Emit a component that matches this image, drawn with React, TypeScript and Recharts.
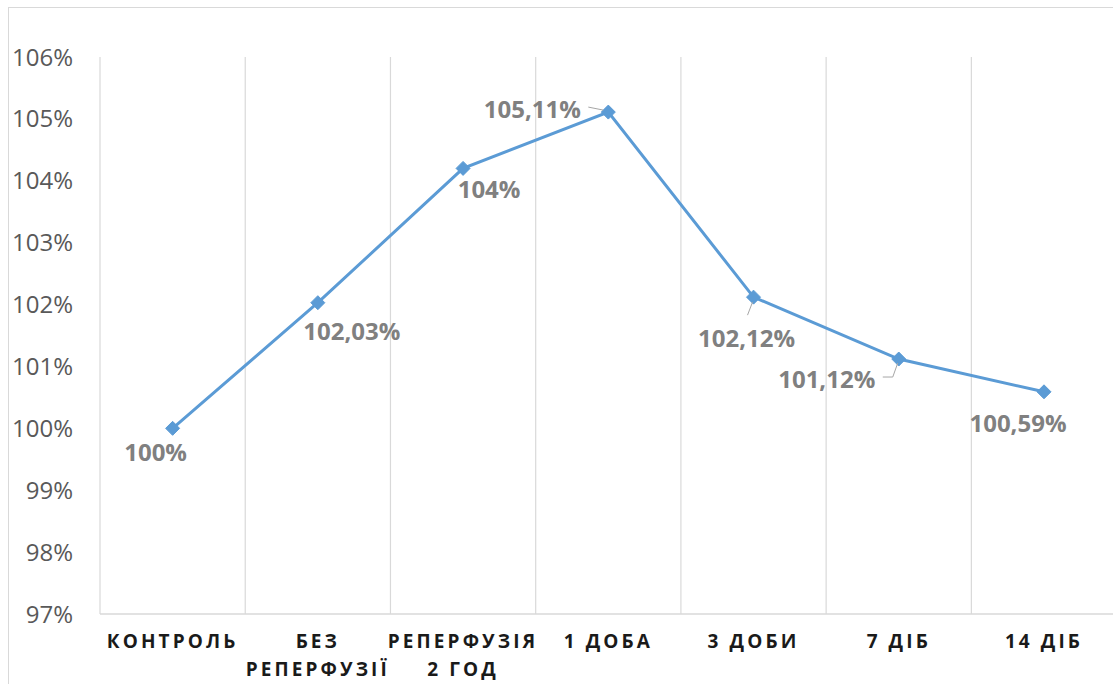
import { LineChart, Line, XAxis, YAxis, ReferenceLine } from 'recharts';

const categories = ['КОНТРОЛЬ', 'БЕЗ\nРЕПЕРФУЗІЇ', 'РЕПЕРФУЗІЯ\n2 ГОД', '1 ДОБА', '3 ДОБИ', '7 ДІБ', '14 ДІБ'];
const values = [100, 102.03, 104.2, 105.11, 102.12, 101.12, 100.59];
const valueLabels = ['100%', '102,03%', '104%', '105,11%', '102,12%', '101,12%', '100,59%'];
const yTicks = [97, 98, 99, 100, 101, 102, 103, 104, 105, 106];

const data = categories.map((name, i) => ({ idx: i, name, value: values[i] }));
const xTicks = categories.map((_, i) => i);
const boundaries = [...categories.map((_, i) => i - 0.5), categories.length - 0.5];

// label placement relative to each point, plus optional leader lines
const labelPlace = [
  { dx: -17, dy: 23 },
  { dx: 34, dy: 28 },
  { dx: 26, dy: 20 },
  { dx: -76, dy: -4, leader: [[-20, -5], [-5, -2]] },
  { dx: -7, dy: 40, leader: [[-1, 5], [-6, 18]] },
  { dx: -72, dy: 19, leader: [[-16, 18], [-6, 18], [-1, 4]] },
  { dx: -26, dy: 31 },
];

const FONT = '"Open Sans", "Noto Sans", sans-serif';

function Diamond(props: any) {
  const { cx, cy } = props;
  if (cx == null || cy == null) return null;
  const r = 7;
  return (
    <polygon
      points={`${cx},${cy - r} ${cx + r},${cy} ${cx},${cy + r} ${cx - r},${cy}`}
      fill="#5b9bd5"
      stroke="#5b9bd5"
    />
  );
}

function ValueLabel(props: any) {
  const { x, y, index } = props;
  const p = labelPlace[index];
  return (
    <g>
      {p.leader && (
        <polyline
          points={p.leader.map(([a, b]: number[]) => `${x + a},${y + b}`).join(' ')}
          fill="none"
          stroke="#a6a6a6"
          strokeWidth={1}
        />
      )}
      <text
        x={x + p.dx}
        y={y + p.dy}
        textAnchor="middle"
        dominantBaseline="central"
        fontFamily={FONT}
        fontWeight={700}
        fontSize={24}
        fill="#808080"
      >
        {valueLabels[index]}
      </text>
    </g>
  );
}

function CategoryTick(props: any) {
  const { x, y, payload } = props;
  const lines = categories[payload.value].split('\n');
  return (
    <text
      x={x}
      y={y}
      textAnchor="middle"
      fontFamily={FONT}
      fontWeight={700}
      fontSize={19}
      letterSpacing={3.1}
      fill="#1a1a1a"
    >
      {lines.map((l, i) => (
        <tspan key={i} x={x} dy={i === 0 ? 34 : 28}>
          {l}
        </tspan>
      ))}
    </text>
  );
}

export default function App() {
  return (
    <div style={{ position: 'absolute', left: 0, top: 0, width: 1113, height: 684, overflow: 'hidden', background: '#fff' }}>
      <div style={{ position: 'absolute', left: 8, top: 7, width: 1130, height: 700, border: '1px solid #d9d9d9' }}>
        <LineChart width={1120} height={680} data={data} margin={{ top: 49, right: 12.4, left: 0, bottom: 14 }}>
          <XAxis
            dataKey="idx"
            type="number"
            domain={[-0.5, categories.length - 0.5]}
            ticks={xTicks}
            interval={0}
            tick={<CategoryTick />}
            tickLine={false}
            tickSize={0}
            tickMargin={0}
            height={60}
            axisLine={{ stroke: '#d9d9d9', strokeWidth: 1.5 }}
          />
          <YAxis
            domain={[97, 106]}
            ticks={yTicks}
            width={91}
            axisLine={false}
            tickLine={false}
            tickSize={0}
            tickMargin={27}
            tickFormatter={(v: number) => `${v}%`}
            tick={{ fill: '#595959', fontSize: 24, fontFamily: FONT }}
          />
          {boundaries.map((b) => (
            <ReferenceLine key={b} x={b} stroke="#d9d9d9" strokeWidth={1.2} />
          ))}
          <Line
            dataKey="value"
            stroke="#5b9bd5"
            strokeWidth={3}
            dot={<Diamond />}
            activeDot={false}
            label={<ValueLabel />}
            isAnimationActive={false}
          />
        </LineChart>
      </div>
    </div>
  );
}
